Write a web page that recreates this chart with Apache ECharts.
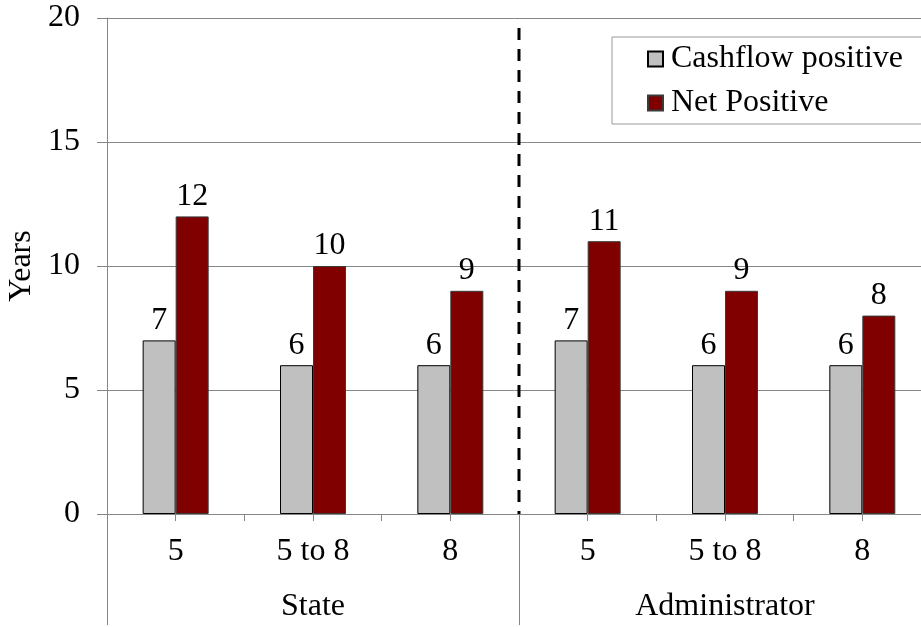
<!DOCTYPE html>
<html>
<head>
<meta charset="utf-8">
<script src="https://cdn.jsdelivr.net/npm/echarts@6/dist/echarts.min.js"></script>
<style>
  html, body { margin: 0; padding: 0; background: #fff; }
  #chart { width: 921px; height: 627px; }
</style>
</head>
<body>
<div id="chart"></div>
<script>
// Payback years by term length, grouped by who pays
const groups = ['State', 'Administrator'];
const terms = ['5', '5 to 8', '8', '5', '5 to 8', '8'];
const cashflowPositive = [7, 6, 6, 7, 6, 6];
const netPositive = [12, 10, 9, 11, 9, 8];
const yTicks = [0, 5, 10, 15, 20];

const FONT = '"Liberation Serif", "Times New Roman", serif';
const AXIS_GREY = '#868686';

const chart = echarts.init(document.getElementById('chart'), null, { renderer: 'canvas' });

const labelStyle = {
  show: true,
  position: 'top',
  distance: 4,
  fontFamily: FONT,
  fontSize: 32,
  color: '#000'
};

chart.setOption({
  animation: false,
  backgroundColor: '#fff',
  grid: { left: 107, top: 18, width: 824, height: 496, containLabel: false, outerBoundsMode: 'none' },
  legend: {
    orient: 'vertical',
    left: 612,
    top: 37,
    padding: [6, 40, 5, 35],
    itemGap: 12,
    itemWidth: 15,
    itemHeight: 15,
    icon: 'rect',
    borderColor: '#999',
    borderWidth: 1,
    backgroundColor: '#fff',
    textStyle: { fontFamily: FONT, fontSize: 32, lineHeight: 32, color: '#000', padding: [0, 0, 0, 3] },
    data: ['Cashflow positive', 'Net Positive']
  },
  xAxis: [
    {
      // term labels, ticks between categories
      type: 'category',
      data: terms,
      position: 'bottom',
      axisLine: { show: true, lineStyle: { color: AXIS_GREY, width: 1 } },
      axisTick: { show: true, length: 7, lineStyle: { color: AXIS_GREY } },
      axisLabel: { fontFamily: FONT, fontSize: 32, lineHeight: 32, color: '#000', margin: 22, interval: 0 },
      splitLine: { show: false }
    },
    {
      // ticks under each category centre
      type: 'category',
      data: terms,
      position: 'bottom',
      axisLine: { show: false },
      axisTick: { show: true, alignWithLabel: true, length: 7, lineStyle: { color: AXIS_GREY } },
      axisLabel: { show: false },
      splitLine: { show: false }
    },
    {
      // group labels and the separators between groups
      type: 'category',
      data: groups,
      position: 'bottom',
      axisLine: { show: false },
      axisTick: { show: true, length: 111, lineStyle: { color: AXIS_GREY } },
      axisLabel: { fontFamily: FONT, fontSize: 32, lineHeight: 32, color: '#000', margin: 77, interval: 0 },
      splitLine: { show: false }
    }
  ],
  yAxis: {
    type: 'value',
    min: yTicks[0],
    max: yTicks[yTicks.length - 1],
    interval: 5,
    name: 'Years',
    nameLocation: 'middle',
    nameRotate: 90,
    nameGap: 66,
    nameTextStyle: { fontFamily: FONT, fontSize: 32, color: '#000' },
    axisLine: { show: true, lineStyle: { color: AXIS_GREY, width: 1 } },
    axisTick: { show: true, length: 10, lineStyle: { color: AXIS_GREY } },
    axisLabel: { fontFamily: FONT, fontSize: 32, color: '#000', margin: 27 },
    splitLine: { show: true, lineStyle: { color: AXIS_GREY, width: 1 } }
  },
  series: [
    {
      name: 'Cashflow positive',
      type: 'bar',
      xAxisIndex: 0,
      data: cashflowPositive,
      barWidth: 33,
      barGap: '0%',
      itemStyle: { color: '#C0C0C0', borderColor: '#000', borderWidth: 1 },
      label: labelStyle
    },
    {
      name: 'Net Positive',
      type: 'bar',
      xAxisIndex: 0,
      data: netPositive,
      barWidth: 33,
      barGap: '0%',
      itemStyle: { color: '#800000', borderColor: '#3a3a3a', borderWidth: 1 },
      label: labelStyle
    }
  ]
});

// Dashed divider between the two groups, placed through the axis scales
const lastState = chart.convertToPixel({ xAxisIndex: 0 }, 2);
const firstAdmin = chart.convertToPixel({ xAxisIndex: 0 }, 3);
const dividerX = Math.round((lastState + firstAdmin) / 2);
const dividerTop = chart.convertToPixel({ yAxisIndex: 0 }, 19.6);
const dividerBottom = chart.convertToPixel({ yAxisIndex: 0 }, 0);
chart.setOption({
  graphic: [{
    type: 'line',
    z: 10,
    shape: { x1: dividerX, y1: dividerTop, x2: dividerX, y2: dividerBottom },
    style: { stroke: '#000', lineWidth: 3, lineDash: [12, 9] }
  }]
});
</script>
</body>
</html>
